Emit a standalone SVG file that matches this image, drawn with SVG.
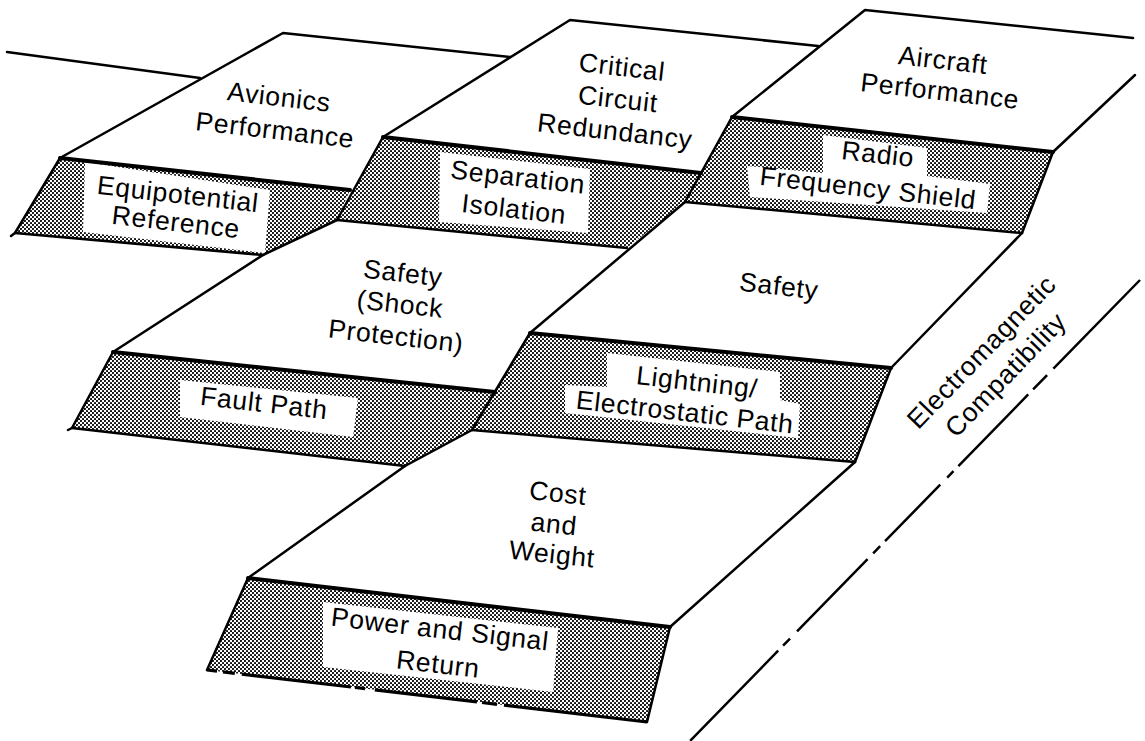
<svg xmlns="http://www.w3.org/2000/svg" width="1145" height="741" viewBox="0 0 1145 741">
<defs>
<pattern id="dots" width="4" height="4" patternUnits="userSpaceOnUse">
<rect width="4" height="4" fill="#fff"/>
<circle cx="1" cy="1" r="1.05" fill="#000"/>
<circle cx="3" cy="3" r="1.05" fill="#000"/>
</pattern>
</defs>
<style>
.cliff{fill:url(#dots);stroke:none}
.box{fill:#fff;stroke:none}
.ln{fill:none;stroke:#000;stroke-width:2.5;stroke-linecap:round;stroke-linejoin:round}
.edge{fill:none;stroke:#000;stroke-width:4;stroke-linecap:round;stroke-linejoin:round}
.dash{fill:none;stroke:#000;stroke-width:3.2;stroke-linecap:butt}
text{font-family:"Liberation Sans",Arial,sans-serif;font-size:26.5px;letter-spacing:0.7px;fill:#000;text-anchor:middle}
</style>
<rect width="1145" height="741" fill="#fff"/>

<g id="avionics">
<polygon class="cliff" points="60,158 350,190 337,220 263,255 15,233"/>
<polygon class="box" points="85,162 270,190 265,253 83,232"/>
<text transform="rotate(6.5 278 106)" x="278" y="106">Avionics</text>
<text transform="rotate(6.5 274 139)" x="274" y="139">Performance</text>
<text transform="rotate(6.5 177 203)" x="177" y="203">Equipotential</text>
<text transform="rotate(6.5 175 231)" x="175" y="231">Reference</text>
</g>

<g id="critical">
<polygon class="cliff" points="383,137 701,173 685,202 627,248 337,220"/>
<polygon class="box" points="440,152 590,169 588,233 439,222"/>
<text transform="rotate(6.5 621 76)" x="621" y="76">Critical</text>
<text transform="rotate(6.5 617 108)" x="617" y="108">Circuit</text>
<text transform="rotate(6.5 614 140)" x="614" y="140">Redundancy</text>
<text transform="rotate(6.5 517 186)" x="517" y="186">Separation</text>
<text transform="rotate(6.5 513 218)" x="513" y="218">Isolation</text>
</g>

<g id="aircraft">
<polygon class="cliff" points="732,117 1053,152 1022,233 685,202"/>
<polygon class="box" points="823,135 927,148 927,176 990,184 987,213 750,197 747,166 823,173"/>
<text transform="rotate(6.5 942 69)" x="942" y="69">Aircraft</text>
<text transform="rotate(6.5 939 100)" x="939" y="100">Performance</text>
<text transform="rotate(6.5 877 163)" x="877" y="163">Radio</text>
<text transform="rotate(6.5 867 197)" x="867" y="197">Frequency Shield</text>
</g>

<g id="safety-shock">
<polygon class="cliff" points="113,352 495,392 472,430 405,466 72,428"/>
<polygon class="box" points="180,380 358,398 353,437 180,417"/>
<text transform="rotate(6.5 402 282)" x="402" y="282">Safety</text>
<text transform="rotate(6.5 399 313)" x="399" y="313">(Shock</text>
<text transform="rotate(6.5 395 345)" x="395" y="345">Protection)</text>
<text transform="rotate(6.5 263 412)" x="263" y="412">Fault Path</text>
</g>

<g id="safety">
<polygon class="cliff" points="530,333 891,368 855,462 472,430"/>
<polygon class="box" points="607,353 780,372 780,400 800,404 798,438 565,413 565,385 607,387"/>
<text transform="rotate(6.5 778 295)" x="778" y="295">Safety</text>
<text transform="rotate(6.5 696 391)" x="696" y="391">Lightning/</text>
<text transform="rotate(6.5 684 421)" x="684" y="421">Electrostatic Path</text>
</g>

<g id="cost">
<polygon class="cliff" points="248,578 670,627 647,722 207,670"/>
<polygon class="box" points="323,602 558,628 553,692 323,667"/>
<text transform="rotate(6 557 502)" x="557" y="502">Cost</text>
<text transform="rotate(6 553 533)" x="553" y="533">and</text>
<text transform="rotate(6 551 563)" x="551" y="563">Weight</text>
<text transform="rotate(6.5 439 638)" x="439" y="638">Power and Signal</text>
<text transform="rotate(6.5 437 673)" x="437" y="673">Return</text>
</g>

<g id="emc">
<text transform="rotate(-46 988 358)" x="988" y="358">Electromagnetic</text>
<text transform="rotate(-46 1012 381)" x="1012" y="381">Compatibility</text>
</g>

<g id="connectors">
<line class="ln" x1="7" y1="52" x2="200" y2="78"/>
<polyline class="ln" points="510,57 283,33 60,158"/>
<polyline class="ln" points="60,158 15,233 11,236"/>
<line class="ln" x1="15" y1="233" x2="263" y2="255"/>
<line class="edge" x1="60" y1="158" x2="350" y2="190"/>

<polyline class="ln" points="818,46 570,20 383,137 337,220"/>
<line class="edge" x1="383" y1="137" x2="701" y2="173"/>
<line class="ln" x1="337" y1="220" x2="627" y2="248"/>

<polyline class="ln" points="1133,38 865,10 732,117 685,202"/>
<line class="edge" x1="732" y1="117" x2="1053" y2="152"/>
<polyline class="ln" points="1135,75 1053,152 1022,233"/>
<line class="ln" x1="685" y1="202" x2="1022" y2="233"/>

<polyline class="ln" points="337,220 263,255 113,352 72,428 68,430"/>
<line class="edge" x1="113" y1="352" x2="495" y2="392"/>
<line class="ln" x1="72" y1="428" x2="405" y2="466"/>

<polyline class="ln" points="685,202 530,333 472,430"/>
<line class="edge" x1="530" y1="333" x2="891" y2="368"/>
<polyline class="ln" points="1022,233 891,368 855,462"/>
<line class="ln" x1="472" y1="430" x2="855" y2="462"/>

<polyline class="ln" points="472,430 405,466 248,578 207,670"/>
<line class="edge" x1="248" y1="578" x2="670" y2="627"/>
<polyline class="ln" points="855,462 670,627 647,722"/>
<path class="dash" d="M207,670 L217,671.2 M223,671.9 L234.8,673.3 M241.8,674.1 L351,687 M355,687.5 L365,688.7 M374.8,689.8 L477,701.9 M482,702.5 L497,704.3 M504,705.1 L647,722"/>

<line x1="1140" y1="280" x2="690" y2="741" fill="none" stroke="#000" stroke-width="2.5" stroke-dasharray="124 9 20 7 100 7 9 10 79 7 10 8 101 10 10 7 126"/>
</g>
</svg>
